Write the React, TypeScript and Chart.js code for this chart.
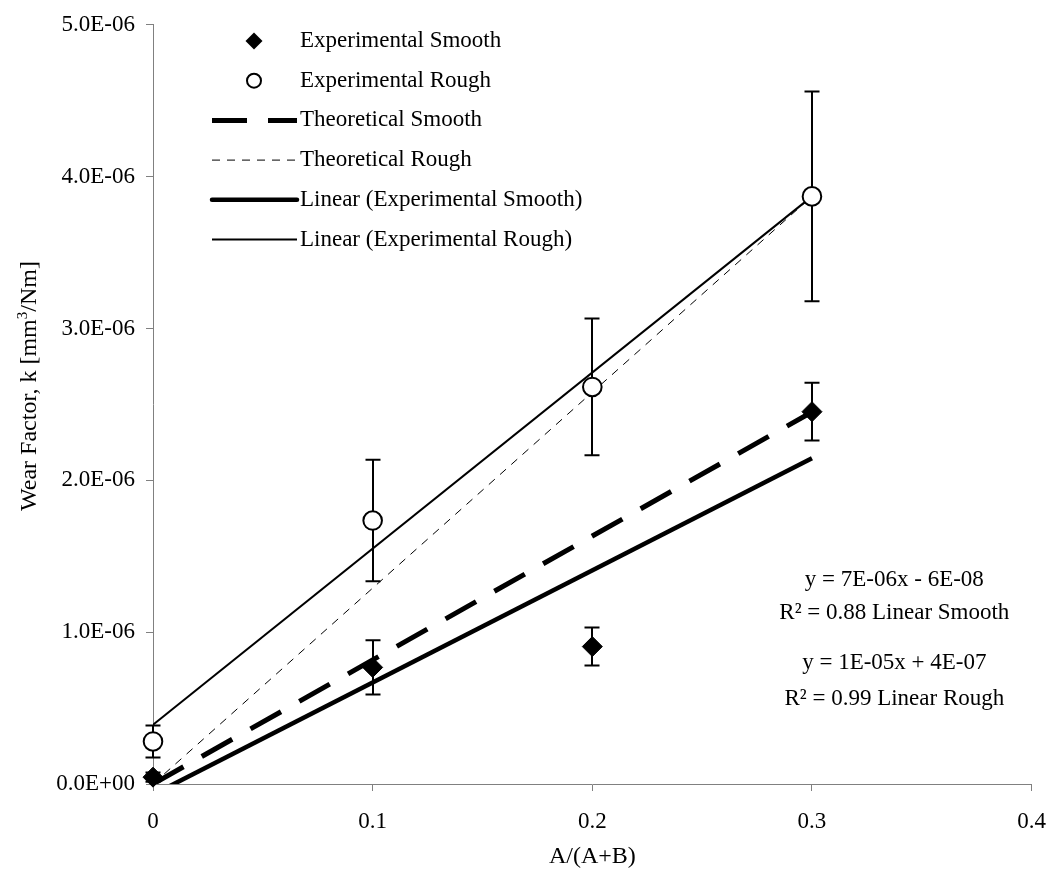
import React, { useEffect, useRef } from 'react';
import { Chart, registerables } from 'chart.js';

Chart.register(...registerables);

// ---- data ----
const xValues = [0, 0.1, 0.2, 0.3];
const smoothValues = [0.045e-6, 0.768e-6, 0.905e-6, 2.452e-6];
const smoothErrors = [0.03e-6, 0.178e-6, 0.125e-6, 0.19e-6];
const roughValues = [0.28e-6, 1.735e-6, 2.615e-6, 3.87e-6];
const roughErrors = [0.105e-6, 0.4e-6, 0.45e-6, 0.69e-6];
const theoSmoothValues = [0, 0.817e-6, 1.633e-6, 2.45e-6];
const theoRoughValues = [0, 1.29e-6, 2.58e-6, 3.87e-6];
const trendX = [0, 0.3];
const trendSmoothValues = [-0.07e-6, 2.145e-6];
const trendRoughValues = [0.39e-6, 3.87e-6];

const xTickLabels = ['0', '0.1', '0.2', '0.3', '0.4'];
const yTickLabels = ['0.0E+00', '1.0E-06', '2.0E-06', '3.0E-06', '4.0E-06', '5.0E-06'];

const legendLabels = [
  'Experimental Smooth',
  'Experimental Rough',
  'Theoretical Smooth',
  'Theoretical Rough',
  'Linear (Experimental Smooth)',
  'Linear (Experimental Rough)',
];

const annotationTexts = [
  'y = 7E-06x - 6E-08',
  'R\u00B2 = 0.88 Linear Smooth',
  'y = 1E-05x + 4E-07',
  'R\u00B2 = 0.99 Linear Rough',
];

const xTitle = 'A/(A+B)';
const yTitleParts = ['Wear Factor, k [mm', '3', '/Nm]'];

const FONT = "'Liberation Serif', 'Times New Roman', serif";
const FS = 23;
const TFS = 24;

const pts = (xs: number[], ys: number[]) => xs.map((x, i) => ({ x, y: ys[i] }));

export default function App() {
  const ref = useRef<HTMLCanvasElement>(null);

  useEffect(() => {
    const canvas = ref.current!;

    const errorBars = {
      id: 'errorBars',
      beforeDatasetsDraw(chart: any) {
        const { ctx } = chart;
        const xs = chart.scales.x;
        const ys = chart.scales.y;
        ctx.save();
        ctx.strokeStyle = '#000';
        ctx.lineWidth = 2;
        const sets: [number[], number[]][] = [
          [smoothValues, smoothErrors],
          [roughValues, roughErrors],
        ];
        sets.forEach(([vals, errs]) => {
          xValues.forEach((xv, i) => {
            const px = Math.round(xs.getPixelForValue(xv));
            const top = ys.getPixelForValue(vals[i] + errs[i]);
            const bot = ys.getPixelForValue(vals[i] - errs[i]);
            ctx.beginPath();
            ctx.moveTo(px, top);
            ctx.lineTo(px, bot);
            ctx.moveTo(px - 7.5, top);
            ctx.lineTo(px + 7.5, top);
            ctx.moveTo(px - 7.5, bot);
            ctx.lineTo(px + 7.5, bot);
            ctx.stroke();
          });
        });
        ctx.restore();
      },
    };

    const overlay = {
      id: 'overlay',
      afterDraw(chart: any) {
        const { ctx } = chart;
        const xs = chart.scales.x;
        const ys = chart.scales.y;
        ctx.save();
        // legend
        const x0 = 212, x1 = 297, mx = 254, tx = 300, y0 = 41, dy = 39.7;
        ctx.font = `${FS}px ${FONT}`;
        ctx.textBaseline = 'middle';
        ctx.textAlign = 'left';
        legendLabels.forEach((lab, i) => {
          const y = y0 + i * dy;
          ctx.strokeStyle = '#000';
          ctx.fillStyle = '#000';
          ctx.setLineDash([]);
          ctx.lineCap = 'butt';
          if (i === 0) {
            const r = 8.5;
            ctx.beginPath();
            ctx.moveTo(mx - r, y);
            ctx.lineTo(mx, y - r);
            ctx.lineTo(mx + r, y);
            ctx.lineTo(mx, y + r);
            ctx.closePath();
            ctx.fill();
          } else if (i === 1) {
            ctx.beginPath();
            ctx.arc(mx, y, 7, 0, Math.PI * 2);
            ctx.fillStyle = '#fff';
            ctx.fill();
            ctx.lineWidth = 2;
            ctx.stroke();
            ctx.fillStyle = '#000';
          } else {
            ctx.beginPath();
            if (i === 2) { ctx.lineWidth = 5; ctx.setLineDash([35, 21]); }
            if (i === 3) { ctx.lineWidth = 1; ctx.setLineDash([8, 7]); }
            if (i === 4) { ctx.lineWidth = 4.5; ctx.lineCap = 'round'; }
            if (i === 5) { ctx.lineWidth = 2; }
            ctx.moveTo(x0, y);
            ctx.lineTo(x1, y);
            ctx.stroke();
            ctx.setLineDash([]);
          }
          ctx.fillStyle = '#000';
          ctx.fillText(lab, tx, y);
        });
        // annotations
        const ax = xs.getPixelForValue(0.3375);
        const ay = [1.342e-6, 1.126e-6, 0.798e-6, 0.563e-6];
        ctx.textAlign = 'center';
        annotationTexts.forEach((t, i) => {
          ctx.fillText(t, ax, ys.getPixelForValue(ay[i]));
        });

        // y axis title with superscript
        const fN = `${TFS}px ${FONT}`;
        const fS = `${Math.round(TFS * 0.62)}px ${FONT}`;
        ctx.font = fN;
        const w0 = ctx.measureText(yTitleParts[0]).width;
        const w2 = ctx.measureText(yTitleParts[2]).width;
        ctx.font = fS;
        const w1 = ctx.measureText(yTitleParts[1]).width;
        const total = w0 + w1 + w2;
        ctx.translate(28, 386);
        ctx.rotate(-Math.PI / 2);
        ctx.textAlign = 'left';
        ctx.textBaseline = 'alphabetic';
        const base = 8;
        let cx = -total / 2;
        ctx.font = fN;
        ctx.fillText(yTitleParts[0], cx, base);
        cx += w0;
        ctx.font = fS;
        ctx.fillText(yTitleParts[1], cx, base - 9);
        cx += w1;
        ctx.font = fN;
        ctx.fillText(yTitleParts[2], cx, base);
        ctx.restore();
      },
    };

    const chart = new Chart(canvas, {
      type: 'scatter',
      data: {
        datasets: [
          {
            label: 'Experimental Smooth',
            data: pts(xValues, smoothValues),
            showLine: false,
            pointStyle: 'rectRot',
            pointRadius: 10,
            pointBackgroundColor: '#000',
            pointBorderColor: '#000',
            pointBorderWidth: 1,
            clip: false,
          },
          {
            label: 'Experimental Rough',
            data: pts(xValues, roughValues),
            showLine: false,
            pointStyle: 'circle',
            pointRadius: 9.3,
            pointBackgroundColor: '#fff',
            pointBorderColor: '#000',
            pointBorderWidth: 2,
            clip: false,
          },
          {
            label: 'Theoretical Smooth',
            data: pts(xValues, theoSmoothValues),
            showLine: true,
            borderColor: '#000',
            borderWidth: 5,
            borderDash: [35, 21],
            pointRadius: 0,
            fill: false,
          },
          {
            label: 'Theoretical Rough',
            data: pts(xValues, theoRoughValues),
            showLine: true,
            borderColor: '#000',
            borderWidth: 1,
            borderDash: [8, 7],
            pointRadius: 0,
            fill: false,
          },
          {
            label: 'Linear (Experimental Smooth)',
            data: pts(trendX, trendSmoothValues),
            showLine: true,
            borderColor: '#000',
            borderWidth: 4.5,
            pointRadius: 0,
            fill: false,
            clip: 0,
          },
          {
            label: 'Linear (Experimental Rough)',
            data: pts(trendX, trendRoughValues),
            showLine: true,
            borderColor: '#000',
            borderWidth: 2,
            pointRadius: 0,
            fill: false,
          },
        ],
      },
      options: {
        animation: false,
        responsive: true,
        maintainAspectRatio: false,
        layout: { padding: { top: 20, right: 22, left: 0, bottom: 0 } },
        plugins: {
          legend: { display: false },
          tooltip: { enabled: false },
        },
        scales: {
          x: {
            type: 'linear',
            min: 0,
            max: 0.4,
            ticks: {
              stepSize: 0.1,
              color: '#000',
              font: { family: FONT, size: FS },
              padding: 17,
              maxRotation: 0,
              callback: (_v: any, i: number) => xTickLabels[i],
            },
            grid: { display: true, drawOnChartArea: false, drawTicks: true, tickLength: 7, color: '#808080' },
            border: { display: true, color: '#808080', width: 1 },
            title: {
              display: true,
              text: xTitle,
              color: '#000',
              font: { family: FONT, size: TFS },
              padding: { top: 0, bottom: 4 },
            },
            afterFit: (s: any) => { s.height = 91; },
          },
          y: {
            type: 'linear',
            min: 0,
            max: 5e-6,
            ticks: {
              stepSize: 1e-6,
              color: '#000',
              font: { family: FONT, size: FS },
              padding: 11,
              callback: (_v: any, i: number) => yTickLabels[i],
            },
            grid: { display: true, drawOnChartArea: false, drawTicks: true, tickLength: 7, color: '#808080' },
            border: { display: true, color: '#808080', width: 1 },
            title: { display: false },
            afterFit: (s: any) => { s.width = 153; },
          },
        },
      },
      plugins: [errorBars, overlay],
    } as any);

    return () => chart.destroy();
  }, []);

  return (
    <div style={{ position: 'absolute', left: 0, top: 0, width: 1063, height: 875, background: '#fff' }}>
      <canvas ref={ref} />
    </div>
  );
}
